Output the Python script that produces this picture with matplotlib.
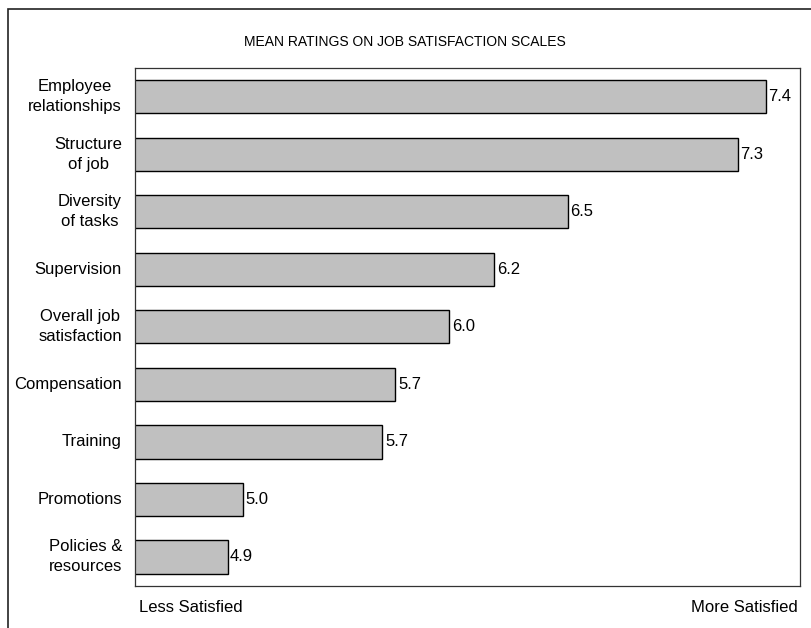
import matplotlib.pyplot as plt
from matplotlib.patches import Rectangle

# data
scales = ['Employee\nrelationships', 'Structure\nof job', 'Diversity\nof tasks', 'Supervision',
          'Overall job\nsatisfaction', 'Compensation', 'Training', 'Promotions', 'Policies &\nresources']
means = [7.40, 7.27, 6.48, 6.14, 5.93, 5.68, 5.62, 4.97, 4.90]
mean_labels = ['7.4', '7.3', '6.5', '6.2', '6.0', '5.7', '5.7', '5.0', '4.9']

plt.rcParams['font.family'] = ['Liberation Sans', 'DejaVu Sans']

fig = plt.figure(figsize=(8.12, 6.28), dpi=100)
ax = fig.add_axes([135/812, 1-585.6/628, (800-135)/812, (585.6-68)/628])

pos = list(range(len(scales)))
ax.barh(pos, means, height=0.58, color='#c0c0c0', edgecolor='black', linewidth=1)
for p, v, lab in zip(pos, means, mean_labels):
    ax.text(v + 0.012, p, lab, va='center', ha='left', fontsize=12)

ax.set_xlim(4.47, 7.56)
ax.set_ylim(len(scales) - 0.5, -0.5)
ax.set_xticks([])
ax.set_yticks([])
for s in ax.spines.values():
    s.set_linewidth(0.9)
    s.set_color('#333333')

for p, name in zip(pos, scales):
    ax.text(-13/665, p, name, transform=ax.get_yaxis_transform(), ha='right', va='center',
            multialignment='center', fontsize=12, linespacing=1.4)

fig.text(405/812, 1-42/628, 'MEAN RATINGS ON JOB SATISFACTION SCALES', ha='center', va='center',
         fontsize=10, family=['Liberation Sans Narrow', 'Liberation Sans'])
fig.text(139/812, 1-607/628, 'Less Satisfied', ha='left', va='center', fontsize=12)
fig.text(798/812, 1-607/628, 'More Satisfied', ha='right', va='center', fontsize=12)

# outer frame
fig.patches.append(Rectangle((8/812, -0.1), 1.2, 1-9/628+0.1, transform=fig.transFigure,
                             fill=False, edgecolor='#222222', linewidth=1.2))

plt.savefig('out.png', dpi=100)
plt.close()
